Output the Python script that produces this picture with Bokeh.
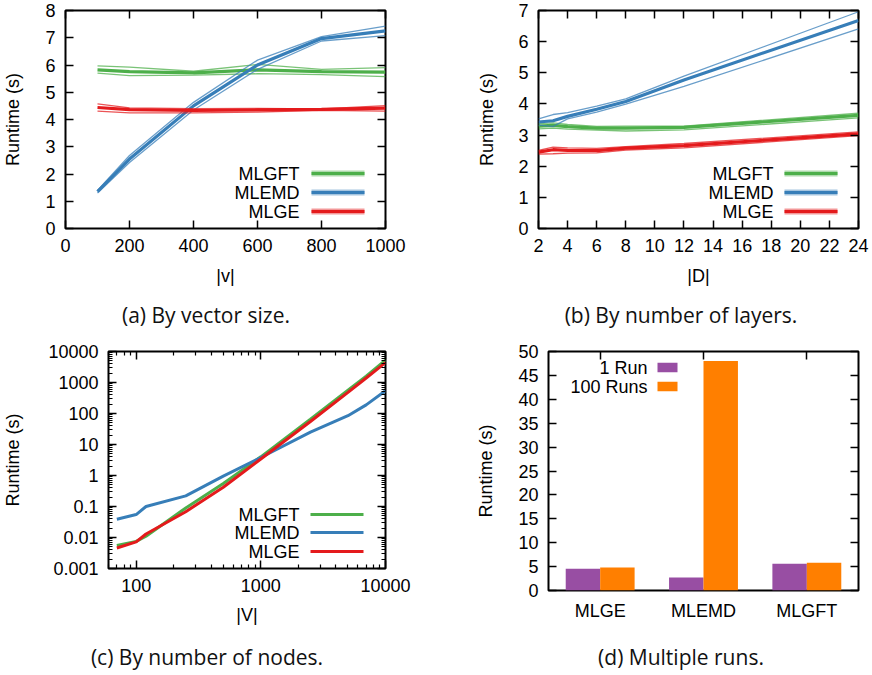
from bokeh.plotting import figure
from bokeh.models import (SingleIntervalTicker, LinearAxis, LogAxis, CategoricalAxis, FixedTicker,
                          Label, BoxAnnotation, Range1d, FactorRange, ColumnDataSource,
                          CustomJSTickFormatter, Div)
from bokeh.layouts import row, column
from bokeh.transform import dodge
from bokeh.embed import file_html
from bokeh.resources import INLINE

# ---------------- data ----------------
# (a) by vector size
a_x = [100, 200, 400, 600, 800, 1000]
a_gft_mean = [5.82, 5.76, 5.71, 5.82, 5.76, 5.74]
a_gft_hi = [5.97, 5.92, 5.77, 6.02, 5.84, 5.90]
a_gft_lo = [5.70, 5.61, 5.63, 5.68, 5.65, 5.57]
a_emd_mean = [1.35, 2.55, 4.50, 6.00, 6.97, 7.25]
a_emd_hi = [1.40, 2.68, 4.63, 6.18, 7.04, 7.43]
a_emd_lo = [1.30, 2.42, 4.35, 5.84, 6.88, 7.08]
a_ge_mean = [4.44, 4.36, 4.33, 4.35, 4.37, 4.42]
a_ge_hi = [4.57, 4.43, 4.40, 4.41, 4.39, 4.51]
a_ge_lo = [4.31, 4.24, 4.24, 4.27, 4.34, 4.31]

# (b) by number of layers
b_x = [2, 3, 4, 6, 8, 12, 24]
b_emd_mean = [3.42, 3.46, 3.60, 3.83, 4.08, 4.77, 6.68]
b_emd_hi = [3.52, 3.66, 3.72, 3.93, 4.16, 4.89, 6.96]
b_emd_lo = [3.32, 3.28, 3.52, 3.74, 3.99, 4.56, 6.41]
b_gft_mean = [3.29, 3.31, 3.27, 3.22, 3.22, 3.25, 3.63]
b_gft_hi = [3.37, 3.39, 3.34, 3.28, 3.29, 3.29, 3.70]
b_gft_lo = [3.20, 3.22, 3.19, 3.16, 3.13, 3.17, 3.55]
b_ge_mean = [2.45, 2.53, 2.51, 2.50, 2.58, 2.66, 3.04]
b_ge_hi = [2.51, 2.61, 2.59, 2.57, 2.63, 2.73, 3.10]
b_ge_lo = [2.39, 2.40, 2.42, 2.43, 2.52, 2.59, 2.98]

# (c) by number of nodes
c_x = [70, 100, 120, 250, 500, 1000, 2500, 5000, 7000, 10000]
c_gft = [0.0055, 0.0075, 0.011, 0.09, 0.55, 4.0, 65, 560, 1600, 5300]
c_emd = [0.039, 0.055, 0.10, 0.22, 0.95, 3.8, 25, 85, 190, 540]
c_ge = [0.0046, 0.0072, 0.013, 0.068, 0.42, 3.4, 55, 480, 1400, 4400]

# (d) multiple runs
d_cats = ["MLGE", "MLEMD", "MLGFT"]
d_1run = [4.55, 2.7, 5.6]
d_100runs = [4.8, 48.0, 5.8]

series_names = ["MLGFT", "MLEMD", "MLGE"]
bar_names = ["1 Run", "100 Runs"]
captions = ["(a) By vector size.", "(b) By number of layers.",
            "(c) By number of nodes.", "(d) Multiple runs."]

# ---------------- style ----------------
GREEN, BLUE, RED = "#4daf4a", "#377eb8", "#e41a1c"
PURPLE, ORANGE = "#984ea3", "#ff7f00"
FONT = "Liberation Sans"
CAPFONT = "Open Sans"
FS = "18px"

blank_fmt = CustomJSTickFormatter(code="return '';")


def style_axis(ax, tick_in=8, minor_in=0, labels=True, standoff=10):
    ax.axis_line_color = None
    ax.major_tick_in = tick_in
    ax.major_tick_out = 0
    ax.minor_tick_in = minor_in
    ax.minor_tick_out = 0
    ax.major_tick_line_color = "black"
    ax.major_tick_line_width = 1.5
    ax.minor_tick_line_color = "black"
    ax.minor_tick_line_width = 1.2
    ax.major_label_text_font = FONT
    ax.axis_label_text_font = FONT
    ax.axis_label_text_font_size = FS
    ax.axis_label_text_font_style = "normal"
    ax.axis_label_text_color = "black"
    if labels:
        ax.major_label_text_color = "black"
        ax.major_label_text_font_size = FS
        ax.major_label_standoff = standoff
    else:
        ax.formatter = blank_fmt
        ax.major_label_text_color = None
        ax.major_label_text_font_size = "1px"
        ax.major_label_standoff = 0


def base_fig(width, height, left, right, top, bottom, **kw):
    p = figure(width=width, height=height, output_backend="svg", toolbar_location=None,
               min_border_left=left, min_border_right=right,
               min_border_top=top, min_border_bottom=bottom, **kw)
    p.outline_line_color = "black"
    p.outline_line_width = 2
    p.background_fill_color = "white"
    p.border_fill_color = "white"
    p.xgrid.visible = False
    p.ygrid.visible = False
    return p


def linear_panel(p, xint, yint, xlabel, ylab_standoff):
    p.xaxis.ticker = SingleIntervalTicker(interval=xint, num_minor_ticks=0)
    p.yaxis.ticker = SingleIntervalTicker(interval=yint, num_minor_ticks=0)
    style_axis(p.xaxis[0])
    style_axis(p.yaxis[0])
    p.xaxis.axis_label = xlabel
    p.xaxis.axis_label_standoff = 11
    p.yaxis.axis_label = "Runtime (s)"
    p.yaxis.axis_label_standoff = ylab_standoff
    top = LinearAxis(ticker=SingleIntervalTicker(interval=xint, num_minor_ticks=0))
    style_axis(top, labels=False)
    p.add_layout(top, "above")
    rt = LinearAxis(ticker=SingleIntervalTicker(interval=yint, num_minor_ticks=0))
    style_axis(rt, labels=False)
    p.add_layout(rt, "right")


def band_lines(p, x, lo, hi, mean, color):
    p.line(x, hi, line_color=color, line_width=1.3, line_alpha=0.75)
    p.line(x, lo, line_color=color, line_width=1.3, line_alpha=0.75)
    p.line(x, mean, line_color=color, line_width=3.2)


def screen_box(p, left, right, bottom, top, color, alpha):
    p.add_layout(BoxAnnotation(left=left, right=right, bottom=bottom, top=top,
                               left_units="screen", right_units="screen",
                               bottom_units="screen", top_units="screen",
                               fill_color=color, fill_alpha=alpha, line_color=None))


def legend_text(p, x, y, text):
    p.add_layout(Label(x=x, y=y, x_units="screen", y_units="screen", text=text,
                       text_align="right", text_baseline="middle", text_font=FONT,
                       text_font_size=FS, text_color="black"))


def line_legend(p, text_right, sample_left, sample_right, ys, colors, band=True):
    for name, y, col in zip(series_names, ys, colors):
        legend_text(p, text_right, y, name)
        if band:
            screen_box(p, sample_left, sample_right, y - 3, y + 3, col, 0.45)
        screen_box(p, sample_left, sample_right, y - 1.6, y + 1.6, col, 1)


LEG_Y = [55, 36, 17]
LEG_COLORS = [GREEN, BLUE, RED]

# ---------------- (a) ----------------
pa = base_fig(430, 300, 64, 45, 10, 72, x_range=Range1d(0, 1000), y_range=Range1d(0, 8))
linear_panel(pa, 200, 1, "|v|", 19)
band_lines(pa, a_x, a_gft_lo, a_gft_hi, a_gft_mean, GREEN)
band_lines(pa, a_x, a_emd_lo, a_emd_hi, a_emd_mean, BLUE)
band_lines(pa, a_x, a_ge_lo, a_ge_hi, a_ge_mean, RED)
line_legend(pa, 234, 246, 299, LEG_Y, LEG_COLORS)

# ---------------- (b) ----------------
pb = base_fig(442, 300, 108, 14, 10, 72, x_range=Range1d(2, 24), y_range=Range1d(0, 7))
linear_panel(pb, 2, 1, "|D|", 18)
band_lines(pb, b_x, b_gft_lo, b_gft_hi, b_gft_mean, GREEN)
band_lines(pb, b_x, b_emd_lo, b_emd_hi, b_emd_mean, BLUE)
band_lines(pb, b_x, b_ge_lo, b_ge_hi, b_ge_mean, RED)
line_legend(pb, 235, 246, 299, LEG_Y, LEG_COLORS)

# ---------------- (c) ----------------
# plots in one row share top/bottom borders, so (c) is shorter than (d)
pc = base_fig(430, 297, 108, 45, 21, 58, x_range=Range1d(60, 10000), y_range=Range1d(0.001, 10000),
              x_axis_type="log", y_axis_type="log")
num_fmt = CustomJSTickFormatter(code="return Number(tick.toPrecision(1)).toString();")
y_major = [10.0 ** e for e in range(-3, 5)]
y_minor = [m * 10.0 ** e for e in range(-3, 4) for m in range(2, 10)]
x_major = [100, 1000, 10000]
x_minor = [m * 10 ** e for e in range(1, 4) for m in range(2, 10) if m * 10 ** e >= 60]

pc.xaxis.ticker = FixedTicker(ticks=x_major, minor_ticks=x_minor)
pc.yaxis.ticker = FixedTicker(ticks=y_major, minor_ticks=y_minor)
pc.xaxis.formatter = num_fmt
pc.yaxis.formatter = num_fmt
style_axis(pc.xaxis[0], minor_in=4)
style_axis(pc.yaxis[0], minor_in=4)
pc.xaxis.axis_label = "|V|"
pc.xaxis.axis_label_standoff = 10
pc.yaxis.axis_label = "Runtime (s)"
pc.yaxis.axis_label_standoff = 22
ctop = LogAxis(ticker=FixedTicker(ticks=x_major, minor_ticks=x_minor))
style_axis(ctop, minor_in=4, labels=False)
pc.add_layout(ctop, "above")
cright = LogAxis(ticker=FixedTicker(ticks=y_major, minor_ticks=y_minor))
style_axis(cright, minor_in=4, labels=False)
pc.add_layout(cright, "right")
pc.line(c_x, c_gft, line_color=GREEN, line_width=3)
pc.line(c_x, c_emd, line_color=BLUE, line_width=3)
pc.line(c_x, c_ge, line_color=RED, line_width=3)
line_legend(pc, 191, 202, 255, [54, 36, 17], LEG_COLORS, band=False)

# ---------------- (d) ----------------
pd_ = base_fig(442, 319, 118, 14, 21, 58, x_range=FactorRange(factors=d_cats), y_range=Range1d(0, 50))
src = ColumnDataSource(data=dict(cat=d_cats, one=d_1run, hundred=d_100runs))
pd_.vbar(x=dodge("cat", -1 / 6, range=pd_.x_range), top="one", width=1 / 3, source=src,
         fill_color=PURPLE, line_color=None)
pd_.vbar(x=dodge("cat", 1 / 6, range=pd_.x_range), top="hundred", width=1 / 3, source=src,
         fill_color=ORANGE, line_color=None)
pd_.yaxis.ticker = SingleIntervalTicker(interval=5, num_minor_ticks=0)
style_axis(pd_.xaxis[0], tick_in=0)
style_axis(pd_.yaxis[0])
pd_.yaxis.axis_label = "Runtime (s)"
pd_.yaxis.axis_label_standoff = 19
dtop = CategoricalAxis()
style_axis(dtop, labels=False)
pd_.add_layout(dtop, "above")
dright = LinearAxis(ticker=SingleIntervalTicker(interval=5, num_minor_ticks=0))
style_axis(dright, labels=False)
pd_.add_layout(dright, "right")
for name, y, col in zip(bar_names, [223, 204], [PURPLE, ORANGE]):
    legend_text(pd_, 99, y, name)
    screen_box(pd_, 109, 129, y - 4.7, y + 4.7, col, 1)


# ---------------- captions ----------------
def caption(text, width, height, pad_left, pad_right, line_h):
    html = ('<div style="width:%dpx;height:%dpx;box-sizing:border-box;padding-left:%dpx;'
            'padding-right:%dpx;text-align:center;font-family:\'%s\';font-size:21px;'
            'line-height:%dpx;color:#111;">%s</div>') % (width, height, pad_left, pad_right,
                                                         CAPFONT, line_h, text)
    return Div(text=html, width=width, height=height, margin=0)


ca = caption(captions[0], 430, 30, 0, 18, 30)
cb = caption(captions[1], 442, 30, 60, 0, 30)
cc = caption(captions[2], 430, 26, 0, 16, 16)
cd = caption(captions[3], 442, 26, 60, 0, 16)

layout = column(row(pa, pb), row(ca, cb), row(pc, pd_), row(cc, cd))

open("out.html", "w").write(file_html(layout, INLINE))
